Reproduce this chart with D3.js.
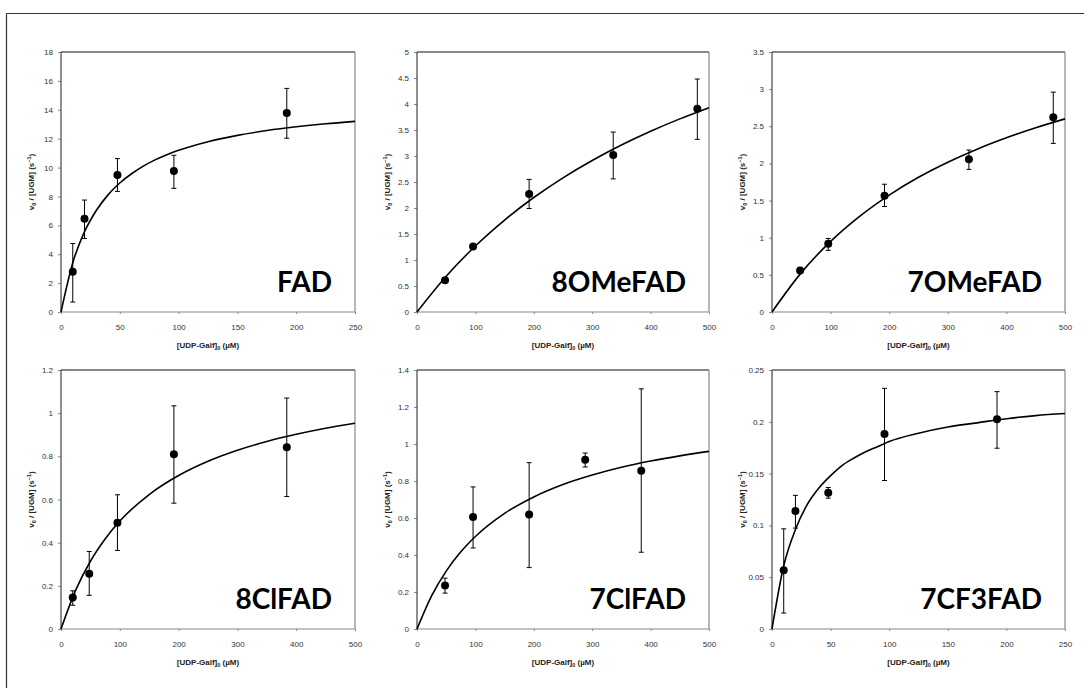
<!DOCTYPE html>
<html><head><meta charset="utf-8">
<script src="https://cdn.jsdelivr.net/npm/d3@7/dist/d3.min.js"></script>
<style>body{margin:0;background:#fff}svg{display:block}</style>
</head><body>
<svg id="chart" width="1084" height="688"></svg>
<script>
// ---------- data ----------
const panelLabels = ["FAD", "8OMeFAD", "7OMeFAD", "8ClFAD", "7ClFAD", "7CF3FAD"];
const xMaxes = [250, 500, 500, 500, 500, 250];
const yMaxes = [18, 5, 3.5, 1.2, 1.4, 0.25];

const xTicks250 = [0, 50, 100, 150, 200, 250];
const xTicks500 = [0, 100, 200, 300, 400, 500];
const yTicksFAD = [0, 2, 4, 6, 8, 10, 12, 14, 16, 18];
const yTicks8OMe = [0, 0.5, 1, 1.5, 2, 2.5, 3, 3.5, 4, 4.5, 5];
const yTicks7OMe = [0, 0.5, 1, 1.5, 2, 2.5, 3, 3.5];
const yTicks8Cl = [0, 0.2, 0.4, 0.6, 0.8, 1, 1.2];
const yTicks7Cl = [0, 0.2, 0.4, 0.6, 0.8, 1, 1.2, 1.4];
const yTicks7CF3 = [0, 0.05, 0.1, 0.15, 0.2, 0.25];

// measured points (x, mean, lower, upper)
const fadX = [10, 20, 48, 96, 192];
const fadY = [2.78, 6.46, 9.49, 9.76, 13.77];
const fadLo = [0.69, 5.09, 8.35, 8.56, 12.03];
const fadHi = [4.74, 7.75, 10.62, 10.85, 15.48];

const ome8X = [48, 96, 192, 336, 480];
const ome8Y = [0.61, 1.26, 2.27, 3.02, 3.91];
const ome8Lo = [0.59, 1.23, 1.99, 2.56, 3.32];
const ome8Hi = [0.63, 1.29, 2.55, 3.46, 4.48];

const ome7X = [48, 96, 192, 336, 480];
const ome7Y = [0.56, 0.92, 1.565, 2.055, 2.62];
const ome7Lo = [0.53, 0.83, 1.42, 1.92, 2.27];
const ome7Hi = [0.59, 0.99, 1.72, 2.18, 2.96];

const cl8X = [20, 48, 96, 192, 384];
const cl8Y = [0.146, 0.256, 0.492, 0.81, 0.842];
const cl8Lo = [0.11, 0.156, 0.364, 0.583, 0.614];
const cl8Hi = [0.177, 0.359, 0.622, 1.034, 1.07];

const cl7X = [48, 96, 192, 288, 384];
const cl7Y = [0.235, 0.605, 0.619, 0.915, 0.856];
const cl7Lo = [0.194, 0.438, 0.332, 0.876, 0.415];
const cl7Hi = [0.275, 0.768, 0.899, 0.951, 1.298];

const cf3X = [10, 20, 48, 96, 192];
const cf3Y = [0.0566, 0.1138, 0.1314, 0.1883, 0.2024];
const cf3Lo = [0.0154, 0.0974, 0.1263, 0.1433, 0.1745];
const cf3Hi = [0.0967, 0.129, 0.1366, 0.2323, 0.2291];

// fitted curves
const fadCurveX = [0, 10, 20, 30, 40, 50, 60, 70, 80, 90, 100, 125, 150, 175, 200, 225, 250];
const fadCurveY = [0, 3.41, 5.56, 7.03, 8.11, 8.93, 9.57, 10.10, 10.53, 10.89, 11.19, 11.79, 12.23, 12.56, 12.82, 13.03, 13.20];
const ome8CurveX = [0, 50, 100, 150, 200, 250, 300, 350, 400, 450, 500];
const ome8CurveY = [0, 0.688, 1.27, 1.769, 2.202, 2.58, 2.913, 3.21, 3.475, 3.714, 3.93];
const ome7CurveX = [0, 50, 100, 150, 200, 250, 300, 350, 400, 450, 500];
const ome7CurveY = [0, 0.53, 0.95, 1.291, 1.574, 1.813, 2.016, 2.192, 2.345, 2.48, 2.6];
const cl8CurveX = [0, 25, 50, 75, 100, 150, 200, 250, 300, 350, 400, 450, 500];
const cl8CurveY = [0, 0.18, 0.314, 0.417, 0.5, 0.623, 0.711, 0.777, 0.828, 0.869, 0.902, 0.93, 0.953];
const cl7CurveX = [0, 25, 50, 75, 100, 150, 200, 250, 300, 350, 400, 450, 500];
const cl7CurveY = [0, 0.179, 0.313, 0.417, 0.5, 0.625, 0.714, 0.781, 0.832, 0.874, 0.908, 0.936, 0.96];
const cf3CurveX = [0, 10, 20, 30, 40, 50, 60, 70, 80, 90, 100, 125, 150, 175, 200, 225, 250];
const cf3CurveY = [0, 0.061, 0.096, 0.12, 0.136, 0.148, 0.158, 0.165, 0.171, 0.176, 0.181, 0.189, 0.195, 0.199, 0.203, 0.206, 0.208];

// ---------- assemble ----------
const pts = [
  [fadX, fadY, fadLo, fadHi], [ome8X, ome8Y, ome8Lo, ome8Hi], [ome7X, ome7Y, ome7Lo, ome7Hi],
  [cl8X, cl8Y, cl8Lo, cl8Hi], [cl7X, cl7Y, cl7Lo, cl7Hi], [cf3X, cf3Y, cf3Lo, cf3Hi]
];
const curves = [
  [fadCurveX, fadCurveY], [ome8CurveX, ome8CurveY], [ome7CurveX, ome7CurveY],
  [cl8CurveX, cl8CurveY], [cl7CurveX, cl7CurveY], [cf3CurveX, cf3CurveY]
];
const yTickSets = [yTicksFAD, yTicks8OMe, yTicks7OMe, yTicks8Cl, yTicks7Cl, yTicks7CF3];

// ---------- layout ----------
const colL = [61, 417, 772], colR = [355, 709, 1065];
const rowT = [52, 370], rowB = [312, 629];

const svg = d3.select("#chart");
svg.append("rect").attr("width", 1084).attr("height", 688).attr("fill", "#fff");
// outer frame (top & left visible)
svg.append("line").attr("x1", 6.5).attr("x2", 1084).attr("y1", 13.5).attr("y2", 13.5).attr("stroke", "#333").attr("stroke-width", 1.2);
svg.append("line").attr("x1", 6.5).attr("x2", 6.5).attr("y1", 13.5).attr("y2", 688).attr("stroke", "#333").attr("stroke-width", 1.2);

const font = "Liberation Sans, Arial, sans-serif";

panelLabels.forEach((lab, i) => {
  const c = i % 3, r = Math.floor(i / 3);
  const L = colL[c], R = colR[c], T = rowT[r], B = rowB[r];
  const xMax = xMaxes[i];
  const x = d3.scaleLinear().domain([0, xMax]).range([L, R]);
  const y = d3.scaleLinear().domain([0, yMaxes[i]]).range([B, T]);
  const g = svg.append("g");

  // axes
  const ya = g.append("g").attr("transform", `translate(${L},0)`)
    .call(d3.axisLeft(y).tickValues(yTickSets[i]).tickSize(3).tickPadding(5).tickFormat(d => String(d)));
  const xa = g.append("g").attr("transform", `translate(0,${B})`)
    .call(d3.axisBottom(x).tickValues(xMax === 250 ? xTicks250 : xTicks500).tickSize(2).tickPadding(10).tickFormat(d => String(d)));
  [ya, xa].forEach(a => {
    a.select(".domain").remove();
    a.selectAll(".tick line").attr("stroke", "#888");
    a.selectAll(".tick text").attr("fill", "#333").attr("font-family", font).attr("font-size", 8);
  });

  // frame
  g.append("line").attr("x1", L).attr("x2", R).attr("y1", T).attr("y2", T).attr("stroke", "#111").attr("stroke-width", 1.2);
  g.append("line").attr("x1", L).attr("x2", L).attr("y1", T).attr("y2", B).attr("stroke", "#444").attr("stroke-width", 1.2);
  g.append("line").attr("x1", R).attr("x2", R).attr("y1", T).attr("y2", B).attr("stroke", "#888").attr("stroke-width", 1.2);
  g.append("line").attr("x1", L).attr("x2", R).attr("y1", B).attr("y2", B).attr("stroke", "#888").attr("stroke-width", 1.2);

  // axis titles
  const xt = g.append("text").attr("x", (L + R) / 2).attr("y", B + 36).attr("text-anchor", "middle")
    .attr("font-family", font).attr("font-size", 8).attr("font-weight", "bold").attr("fill", "#222");
  xt.append("tspan").text("[UDP-Galf]");
  xt.append("tspan").attr("font-size", 5.5).attr("dy", 2).text("0");
  xt.append("tspan").attr("dy", -2).text("  (\u00b5M)");

  const yt = g.append("text").attr("transform", `translate(${L - 27},${(T + B) / 2}) rotate(-90)`)
    .attr("text-anchor", "middle").attr("font-family", font).attr("font-size", 8).attr("font-weight", "bold").attr("fill", "#222");
  yt.append("tspan").text("v");
  yt.append("tspan").attr("font-size", 5.5).attr("dy", 2).text("0");
  yt.append("tspan").attr("dy", -2).text(" / [UGM]  (s");
  yt.append("tspan").attr("font-size", 5.5).attr("dy", -3).text("\u22121");
  yt.append("tspan").attr("dy", 3).text(")");

  // curve
  const [cx, cy] = curves[i];
  const line = d3.line().x(d => x(d[0])).y(d => y(d[1])).curve(d3.curveMonotoneX);
  g.append("path").datum(cx.map((v, k) => [v, cy[k]])).attr("d", line)
    .attr("fill", "none").attr("stroke", "#000").attr("stroke-width", 1.6);

  // error bars + points
  const [px, py, plo, phi] = pts[i];
  const data = px.map((v, k) => ({ x: v, y: py[k], lo: plo[k], hi: phi[k] }));
  const eb = g.append("g").attr("stroke", "#000").attr("stroke-width", 1);
  eb.selectAll(".v").data(data).join("line").attr("x1", d => x(d.x)).attr("x2", d => x(d.x))
    .attr("y1", d => y(d.lo)).attr("y2", d => y(d.hi));
  eb.selectAll(".t").data(data).join("line").attr("x1", d => x(d.x) - 2.5).attr("x2", d => x(d.x) + 2.5)
    .attr("y1", d => y(d.hi)).attr("y2", d => y(d.hi));
  eb.selectAll(".b").data(data).join("line").attr("x1", d => x(d.x) - 2.5).attr("x2", d => x(d.x) + 2.5)
    .attr("y1", d => y(d.lo)).attr("y2", d => y(d.lo));
  g.selectAll("circle").data(data).join("circle").attr("cx", d => x(d.x)).attr("cy", d => y(d.y)).attr("r", 4).attr("fill", "#000");

  // panel label
  g.append("text").attr("x", R - 23).attr("y", B - 20).attr("text-anchor", "end")
    .attr("font-family", "Lato, 'Open Sans', sans-serif").attr("font-weight", "bold").attr("font-size", 28)
    .attr("fill", "#000").text(lab);
});
</script>
</body></html>
